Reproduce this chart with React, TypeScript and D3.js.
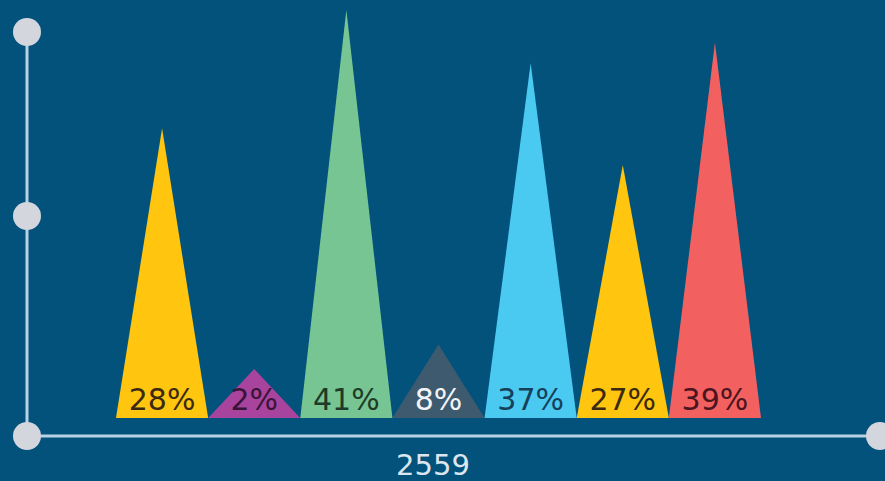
import React, { useEffect } from 'react';
import * as d3 from 'd3';

// Data
const categories = ['A', 'B', 'C', 'D', 'E', 'F', 'G'];
const peakValues = [71, 12, 100, 18, 87, 62, 92];
const percentLabels = ['28%', '2%', '41%', '8%', '37%', '27%', '39%'];
const fillColors = ['#FFC50F', '#A8449E', '#78C594', '#3E5A6F', '#4AC9F1', '#FFC50F', '#F2615F'];
const textColors = ['#3B2A12', '#3A1438', '#1E3A28', '#F2F4F6', '#16405A', '#3B2A12', '#4A1420'];
const axisLabel = '2559';

const W = 885;
const H = 481;

export default function App() {
  useEffect(() => {
    document.body.style.margin = '0';
  }, []);

  const base = 418;
  const axisY = 436;
  const axisX = 27;

  const x = d3.scaleBand<string>().domain(categories).range([116, 761]).padding(0);
  const y = d3.scaleLinear().domain([0, 100]).range([base, 10]);

  const tri = (c: string, v: number) => {
    const x0 = x(c) || 0;
    const x1 = x0 + x.bandwidth();
    const xm = x0 + x.bandwidth() / 2;
    const path = d3.path();
    path.moveTo(x0, y(0));
    path.lineTo(xm, y(v));
    path.lineTo(x1, y(0));
    path.closePath();
    return path.toString();
  };

  const axisColor = '#B9D2E6';
  const dotColor = '#D3D6DC';

  return (
    <svg width={W} height={H} style={{ display: 'block', background: '#02527C' }}>
      <rect width={W} height={H} fill="#02527C" />
      {categories.map((c, i) => (
        <path key={c} d={tri(c, peakValues[i])} fill={fillColors[i]} />
      ))}
      {categories.map((c, i) => (
        <text
          key={'t' + c}
          x={(x(c) || 0) + x.bandwidth() / 2}
          y={410}
          textAnchor="middle"
          fontFamily="DejaVu Sans, sans-serif"
          fontSize={30}
          fill={textColors[i]}
        >
          {percentLabels[i]}
        </text>
      ))}
      <line x1={axisX} y1={32} x2={axisX} y2={axisY} stroke={axisColor} strokeWidth={3} />
      <line x1={axisX} y1={axisY} x2={880} y2={axisY} stroke={axisColor} strokeWidth={3} />
      <circle cx={axisX} cy={32} r={14} fill={dotColor} />
      <circle cx={axisX} cy={216} r={14} fill={dotColor} />
      <circle cx={axisX} cy={axisY} r={14} fill={dotColor} />
      <circle cx={880} cy={axisY} r={14} fill={dotColor} />
      <text
        x={433}
        y={475}
        textAnchor="middle"
        fontFamily="DejaVu Sans, sans-serif"
        fontSize={29}
        fill="#DCE6EE"
      >
        {axisLabel}
      </text>
    </svg>
  );
}
